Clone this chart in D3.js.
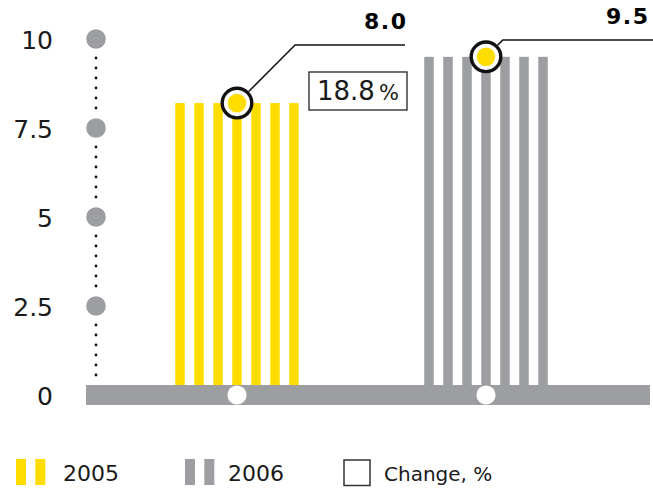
<!DOCTYPE html>
<html>
<head>
<meta charset="utf-8">
<script src="https://cdn.jsdelivr.net/npm/d3@7"></script>
<style>
  body { margin: 0; background: #fff; }
  svg text { font-family: "DejaVu Sans", sans-serif; fill: #1a1a1a; }
</style>
</head>
<body>
<div id="chart"></div>
<script>
// data
var years = ["2005", "2006"];
var barHeights = [8.2, 9.5];       // drawn height of each bar group
var valueLabels = ["8.0", "9.5"];  // printed values
var changeLabel = "18.8";
var tickValues = [0, 2.5, 5, 7.5, 10];
var tickLabels = ["0", "2.5", "5", "7.5", "10"];

var yellow = "#ffdd00", grey = "#9d9ea1";
var colors = [yellow, grey];

var width = 653, height = 489;
var svg = d3.select("#chart").append("svg")
    .attr("width", width)
    .attr("height", height);

var y = d3.scaleLinear().domain([0, 10]).range([395, 39]);
var x = d3.scalePoint().domain(years).range([237, 486]);

// stripes inside each bar group
var stripes = d3.range(7);
var pitch = 19, stripeW = 9.5;

years.forEach(function (yr, i) {
    svg.append("g").selectAll("rect")
        .data(stripes)
        .enter()
        .append("rect")
        .attr("x", function (s) { return x(yr) + (s - 3) * pitch - stripeW / 2; })
        .attr("y", y(barHeights[i]))
        .attr("width", stripeW)
        .attr("height", y(0) - y(barHeights[i]))
        .style("fill", colors[i]);
});

// baseline band
svg.append("rect")
    .attr("x", 86).attr("y", y(0) - 10)
    .attr("width", 650 - 86).attr("height", 20)
    .style("fill", grey);

svg.selectAll("circle.base")
    .data(years)
    .enter()
    .append("circle")
    .attr("class", "base")
    .attr("cx", function (d) { return x(d); })
    .attr("cy", y(0))
    .attr("r", 9.6)
    .style("fill", "#fff");

// y axis: dotted line with grey dots
var axisX = 96;
for (var k = 0; k < tickValues.length - 1; k++) {
    var yb = y(tickValues[k]), yt = y(tickValues[k + 1]);
    svg.append("g").selectAll("circle")
        .data(d3.range(yt + 19, yb - 18, 10))
        .enter()
        .append("circle")
        .attr("cx", axisX)
        .attr("cy", function (d) { return d; })
        .attr("r", 1.4)
        .style("fill", "#111");
}

svg.selectAll("circle.tick")
    .data(tickValues.filter(function (d) { return d > 0; }))
    .enter()
    .append("circle")
    .attr("class", "tick")
    .attr("cx", axisX)
    .attr("cy", function (d) { return y(d); })
    .attr("r", 9.8)
    .style("fill", grey);

svg.selectAll("text.tick")
    .data(tickValues)
    .enter()
    .append("text")
    .attr("class", "tick")
    .attr("x", 53)
    .attr("y", function (d) { return y(d) + 9.5; })
    .attr("text-anchor", "end")
    .style("font-size", "25px")
    .text(function (d, i) { return tickLabels[i]; });

// markers and leader lines
var leaderY = [45, 40];
var leaderEnd = [405, 653];
var labelX = [406, 648];

years.forEach(function (yr, i) {
    var cx = x(yr), cy = y(barHeights[i]);
    var r0 = 16.5;
    var sx = cx + r0 * Math.SQRT1_2, sy = cy - r0 * Math.SQRT1_2;
    var kx = sx + (sy - leaderY[i]);
    svg.append("polyline")
        .attr("points", [[sx, sy], [kx, leaderY[i]], [leaderEnd[i], leaderY[i]]].join(" "))
        .style("fill", "none")
        .style("stroke", "#111")
        .style("stroke-width", 1.5);

    svg.append("circle")
        .attr("cx", cx).attr("cy", cy).attr("r", 14.8)
        .style("fill", "#fff")
        .style("stroke", "#111")
        .style("stroke-width", 3.4);
    svg.append("circle")
        .attr("cx", cx).attr("cy", cy).attr("r", 9.3)
        .style("fill", yellow);

    svg.append("text")
        .attr("x", labelX[i] + 1.5)
        .attr("y", leaderY[i] - 16)
        .attr("text-anchor", "end")
        .style("font-size", "22px")
        .style("font-weight", "bold")
        .style("letter-spacing", "1.5px")
        .style("fill", "#000")
        .text(valueLabels[i]);
});

// change box
svg.append("rect")
    .attr("x", 309).attr("y", 72)
    .attr("width", 98).attr("height", 38)
    .style("fill", "#fff")
    .style("stroke", "#222")
    .style("stroke-width", 1.3);

var ct = svg.append("text")
    .attr("x", 317).attr("y", 100)
    .style("font-size", "26px");
ct.append("tspan").text(changeLabel);
ct.append("tspan").attr("dx", 4).style("font-size", "21px").text("%");

// legend
var legend = svg.append("g");
[0, 1].forEach(function (i) {
    var lx = [16, 185][i];
    legend.append("rect").attr("x", lx).attr("y", 459).attr("width", 10).attr("height", 26).style("fill", colors[i]);
    legend.append("rect").attr("x", lx + 19.3).attr("y", 459).attr("width", 10).attr("height", 26).style("fill", colors[i]);
    legend.append("text")
        .attr("x", [63, 228][i]).attr("y", 480.5)
        .style("font-size", "22px")
        .text(years[i]);
});
legend.append("rect")
    .attr("x", 344).attr("y", 460)
    .attr("width", 26).attr("height", 25.5)
    .style("fill", "#fff")
    .style("stroke", "#333")
    .style("stroke-width", 1.5);
legend.append("text")
    .attr("x", 384).attr("y", 480.5)
    .style("font-size", "20px")
    .text("Change, %");
</script>
</body>
</html>
